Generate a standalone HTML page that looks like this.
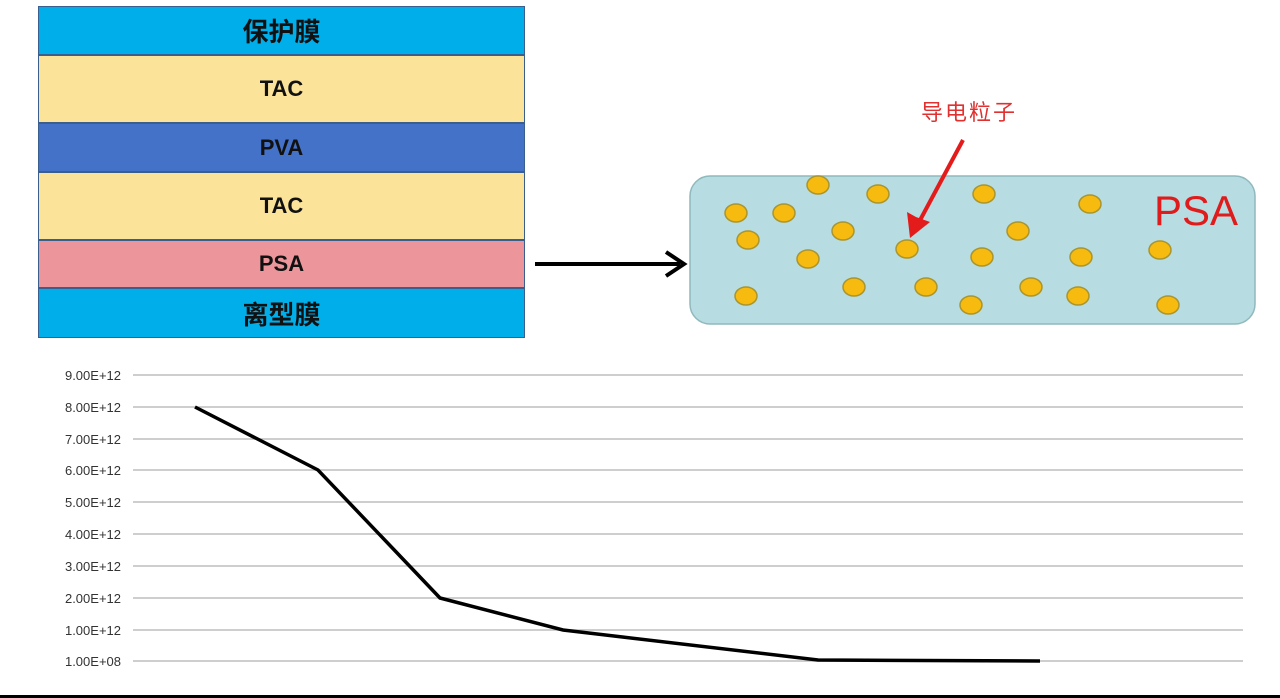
<!DOCTYPE html><html><head><meta charset="utf-8"><style>
body{margin:0;width:1280px;height:698px;background:#fff;overflow:hidden;position:relative;font-family:"Liberation Sans","Noto Sans CJK SC",sans-serif}
.l{position:absolute;left:38px;width:487px;border:1px solid #3a5f8f;display:flex;align-items:center;justify-content:center;font-weight:bold;font-size:22px;color:#111;box-sizing:border-box}
</style></head><body>
<div class="l" style="top:6px;height:49px;background:#00aeea;font-size:26px">保护膜</div>
<div class="l" style="top:55px;height:68px;background:#fbe39a">TAC</div>
<div class="l" style="top:123px;height:49px;background:#4472c8">PVA</div>
<div class="l" style="top:172px;height:68px;background:#fbe39a">TAC</div>
<div class="l" style="top:240px;height:48px;background:#ec959b">PSA</div>
<div class="l" style="top:288px;height:50px;background:#00aeea;font-size:26px">离型膜</div>
<svg width="1280" height="698" style="position:absolute;left:0;top:0">
<line x1="535" y1="264" x2="680" y2="264" stroke="#000" stroke-width="4"/>
<polyline points="666,252 684,264 666,276" fill="none" stroke="#000" stroke-width="4"/>
<rect x="690" y="176" width="565" height="148" rx="20" fill="#b7dde2" stroke="#8fb9bd" stroke-width="1.5"/>
<g fill="#f6bb0e" stroke="#a99530" stroke-width="1.5">
<ellipse cx="736" cy="213" rx="11" ry="9"/><ellipse cx="784" cy="213" rx="11" ry="9"/><ellipse cx="818" cy="185" rx="11" ry="9"/><ellipse cx="878" cy="194" rx="11" ry="9"/><ellipse cx="984" cy="194" rx="11" ry="9"/><ellipse cx="1090" cy="204" rx="11" ry="9"/><ellipse cx="748" cy="240" rx="11" ry="9"/><ellipse cx="843" cy="231" rx="11" ry="9"/><ellipse cx="1018" cy="231" rx="11" ry="9"/><ellipse cx="808" cy="259" rx="11" ry="9"/><ellipse cx="907" cy="249" rx="11" ry="9"/><ellipse cx="982" cy="257" rx="11" ry="9"/><ellipse cx="1081" cy="257" rx="11" ry="9"/><ellipse cx="1160" cy="250" rx="11" ry="9"/><ellipse cx="746" cy="296" rx="11" ry="9"/><ellipse cx="854" cy="287" rx="11" ry="9"/><ellipse cx="926" cy="287" rx="11" ry="9"/><ellipse cx="971" cy="305" rx="11" ry="9"/><ellipse cx="1031" cy="287" rx="11" ry="9"/><ellipse cx="1078" cy="296" rx="11" ry="9"/><ellipse cx="1168" cy="305" rx="11" ry="9"/>
</g>
<line x1="963" y1="140" x2="918" y2="224" stroke="#e41b1b" stroke-width="4"/>
<polygon points="910,238 907,212 916,217 930,222" fill="#e41b1b"/>
<text x="969" y="120" font-size="22" fill="#e03030" text-anchor="middle" letter-spacing="2" font-family="Noto Sans CJK SC,sans-serif">导电粒子</text>
<text x="1196" y="225" font-size="42" fill="#e01b1b" text-anchor="middle" font-family="Liberation Sans,sans-serif">PSA</text>
<g stroke="#bdbdbd" stroke-width="1.5">
<line x1="133" y1="375" x2="1243" y2="375"/><line x1="133" y1="407" x2="1243" y2="407"/><line x1="133" y1="439" x2="1243" y2="439"/><line x1="133" y1="470" x2="1243" y2="470"/><line x1="133" y1="502" x2="1243" y2="502"/><line x1="133" y1="534" x2="1243" y2="534"/><line x1="133" y1="566" x2="1243" y2="566"/><line x1="133" y1="598" x2="1243" y2="598"/><line x1="133" y1="630" x2="1243" y2="630"/><line x1="133" y1="661" x2="1243" y2="661"/>
</g>
<g font-size="13" fill="#333" text-anchor="end" font-family="Liberation Sans,sans-serif">
<text x="121" y="380">9.00E+12</text><text x="121" y="412">8.00E+12</text><text x="121" y="444">7.00E+12</text><text x="121" y="475">6.00E+12</text><text x="121" y="507">5.00E+12</text><text x="121" y="539">4.00E+12</text><text x="121" y="571">3.00E+12</text><text x="121" y="603">2.00E+12</text><text x="121" y="635">1.00E+12</text><text x="121" y="666">1.00E+08</text>
</g>
<polyline points="195,407 318,470 440,598 563,630 818,660 1040,661" fill="none" stroke="#000" stroke-width="3.5"/>
<rect x="0" y="695" width="1280" height="3" fill="#000"/>
</svg>
</body></html>
